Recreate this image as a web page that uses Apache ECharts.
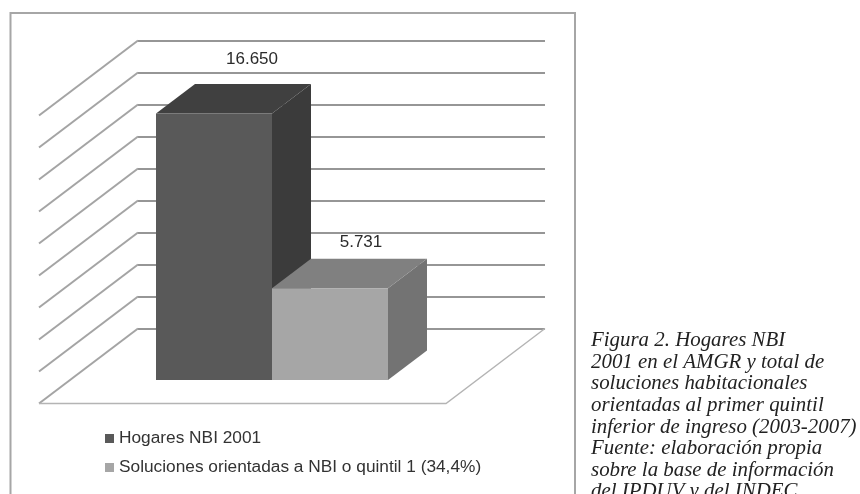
<!DOCTYPE html>
<html><head><meta charset="utf-8">
<style>html,body{margin:0;padding:0;background:#fff;overflow:hidden}#c{width:860px;height:494px}</style>
<script src="https://cdn.jsdelivr.net/npm/echarts@6/dist/echarts.min.js"></script>
</head><body><div id="c"></div>
<script>
const categories = ["Hogares NBI 2001", "Soluciones orientadas a NBI o quintil 1 (34,4%)"];
const hogares = [16650];
const soluciones = [5731];
const valueLabels = ["16.650", "5.731"];
const wallTicks = [0, 2000, 4000, 6000, 8000, 10000, 12000, 14000, 16000, 18000];
const captionLines = [
  "Figura 2. Hogares NBI",
  "2001 en el AMGR y total de",
  "soluciones habitacionales",
  "orientadas al primer quintil",
  "inferior de ingreso (2003-2007)",
  "Fuente: elaboración propia",
  "sobre la base de información",
  "del IPDUV y del INDEC"
];

const BAR_DX = 39, BAR_DY = -29.5, FLOOR_DX = -99, FLOOR_DY = 75;

function barRenderer(idx, cols, lift, shiftX) {
  return function (params, api) {
    const top = api.coord([idx, api.value(1)]);
    const base = api.coord([idx, 0]);
    const w = api.size([1, 0])[0];
    const l = top[0] - w / 2, r = top[0] + w / 2, t = top[1], b = base[1];
    return { type: 'group', children: [
      { type: 'polygon', shape: { points: [[r, t], [r + BAR_DX, t + BAR_DY], [r + BAR_DX, b + BAR_DY], [r, b]] }, style: { fill: cols.side } },
      { type: 'polygon', shape: { points: [[l, t], [l + BAR_DX, t + BAR_DY], [r + BAR_DX, t + BAR_DY], [r, t]] }, style: { fill: cols.top } },
      { type: 'rect', shape: { x: l, y: t, width: r - l, height: b - t }, style: { fill: cols.front } },
      { type: 'text', x: top[0] + BAR_DX + shiftX, y: t + BAR_DY - lift, style: { text: valueLabels[idx], fill: '#2b2b2b', font: '17px "Liberation Sans"', align: 'center', verticalAlign: 'middle' } }
    ] };
  };
}

const sideColor = '#a4a4a4';
const chart = echarts.init(document.getElementById('c'), null, { renderer: 'canvas' });
chart.setOption({
  animation: false,
  backgroundColor: '#ffffff',
  grid: [
    { left: 138, width: 407, top: 40.5, height: 288 },
    { left: 156, width: 232, top: 92, height: 288 }
  ],
  xAxis: [
    { type: 'value', gridIndex: 0, min: 0, max: 1, show: false },
    { type: 'category', gridIndex: 1, data: categories, show: false }
  ],
  yAxis: [
    { type: 'value', gridIndex: 0, min: 0, max: 18000, interval: 2000,
      axisLine: { show: false }, axisTick: { show: false }, axisLabel: { show: false },
      splitLine: { show: true, lineStyle: { color: '#969696', width: 2 } } },
    { type: 'value', gridIndex: 1, min: 0, max: 18000, show: false }
  ],
  legend: {
    orient: 'vertical', left: 100, top: 425, itemWidth: 9, itemHeight: 9, itemGap: 12,
    icon: 'rect',
    data: categories,
    textStyle: { fontFamily: 'Liberation Sans', fontSize: 17.3, color: '#333', padding: [0, 0, 0, 0] }
  },
  title: {
    text: captionLines.join('\n'), left: 591, top: 330, padding: 0,
    textStyle: { fontFamily: 'Liberation Serif', fontStyle: 'italic', fontWeight: 'normal', fontSize: 20.9, lineHeight: 21.6, color: '#222' }
  },
  graphic: [
    { type: 'polyline', silent: true, shape: { points: [[10.5, 500], [10.5, 13], [575, 13], [575, 500]] },
      style: { stroke: '#a6a6a6', lineWidth: 2, fill: null } }
  ],
  series: [
    { type: 'custom', xAxisIndex: 0, yAxisIndex: 0, silent: true, legendHoverLink: false,
      data: wallTicks.map(v => [0, v]),
      encode: { x: 0, y: 1 },
      renderItem: function (params, api) {
        const p = api.coord([0, api.value(1)]);
        const children = [{ type: 'line', shape: { x1: p[0], y1: p[1], x2: p[0] + FLOOR_DX, y2: p[1] + FLOOR_DY },
          style: { stroke: sideColor, lineWidth: 2 } }];
        if (api.value(1) === 0) {
          const q = api.coord([1, 0]);
          children.push({ type: 'polyline',
            shape: { points: [[p[0] + FLOOR_DX, p[1] + FLOOR_DY], [q[0] + FLOOR_DX, q[1] + FLOOR_DY], q] },
            style: { stroke: '#b4b4b4', lineWidth: 1.4, fill: null } });
        }
        return { type: 'group', children };
      } },
    { name: categories[0], type: 'custom', xAxisIndex: 1, yAxisIndex: 1, silent: true,
      itemStyle: { color: '#595959' },
      data: hogares.map(v => [0, v]), encode: { x: 0, y: 1 },
      renderItem: barRenderer(0, { front: '#595959', top: '#404040', side: '#3b3b3b' }, 25, -1) },
    { name: categories[1], type: 'custom', xAxisIndex: 1, yAxisIndex: 1, silent: true,
      itemStyle: { color: '#a6a6a6' },
      data: soluciones.map(v => [1, v]), encode: { x: 0, y: 1 },
      renderItem: barRenderer(1, { front: '#a6a6a6', top: '#808080', side: '#737373' }, 16, -8) }
  ]
});
</script></body></html>
